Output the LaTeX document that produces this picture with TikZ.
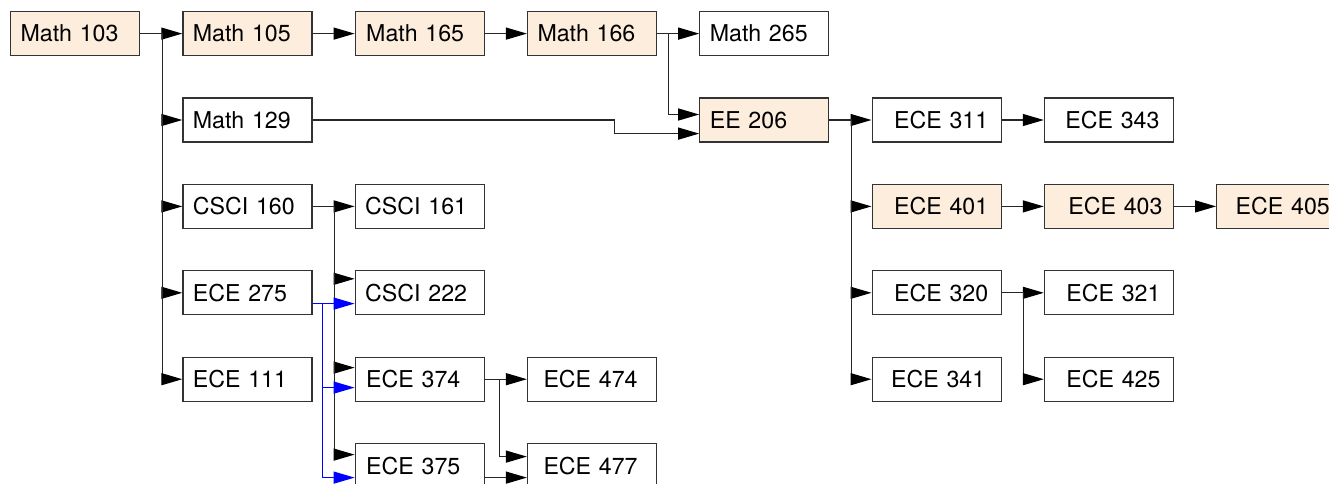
\documentclass[tikz,border=0pt]{standalone}
\usepackage{fontspec}
\setmainfont{TeX Gyre Heros}
\usetikzlibrary{arrows.meta}
\definecolor{core}{RGB}{253,237,221}
\tikzset{
  course/.style={draw=black!80, line width=0.6pt, anchor=north west, inner xsep=0pt, inner ysep=0pt,
    text width=64.5pt, minimum height=22pt, align=left, font=\fontsize{11.6}{13}\selectfont,
    execute at begin node={\hspace*{#1}}},
  course/.default=5pt,
  req/.style={draw=black!85, line width=0.6pt, -{Triangle[length=10.5pt,width=6pt,color=black]}},
  reqblue/.style={draw=blue, line width=0.6pt, -{Triangle[length=10.5pt,width=6pt,color=blue]}},
}
\begin{document}
\begin{tikzpicture}[x=0.5pt, y=-0.5pt]
 \useasboundingbox (0,0) rectangle (1329,483);
 \clip (0,0) rectangle (1329,483);

 \def\dx{172.3}
 \def\dy{86.4}

 %core sequence
 \foreach \c/\r/\name/\txt/\pad in {0/0/m103/Math 103/5pt, 1/0/m105/Math 105/5pt, 2/0/m165/Math 165/5.5pt,
     3/0/m166/Math 166/5pt, 4/1/ee206/EE 206/5pt, 5/2/e401/ECE 401/11pt, 6/2/e403/ECE 403/12pt, 7/2/e405/ECE 405/9.5pt} {
        \node[course=\pad, fill=core] (\name) at ({\c*\dx+10},{\r*\dy+11}) {\txt};
 }

 %other courses
 \foreach \c/\r/\name/\txt/\pad in {4/0/m265/Math 265/5pt, 1/1/m129/Math 129/5pt, 1/2/c160/CSCI 160/5pt,
     1/3/e275/ECE 275/5pt, 1/4/e111/ECE 111/5pt, 2/2/c161/CSCI 161/5pt, 2/3/c222/CSCI 222/5pt,
     2/4/e374/ECE 374/5.5pt, 2/5/e375/ECE 375/5.5pt, 3/4/e474/ECE 474/8pt, 3/5/e477/ECE 477/8pt,
     5/1/e311/ECE 311/11pt, 6/1/e343/ECE 343/10.5pt, 5/3/e320/ECE 320/11pt, 5/4/e341/ECE 341/9.5pt,
     6/3/e321/ECE 321/11pt, 6/4/e425/ECE 425/11pt} {
        \node[course=\pad, fill=white] (\name) at ({\c*\dx+10},{\r*\dy+11}) {\txt};
 }

 %math
 \draw[req] (m103.east) -- (m105.west);
 \foreach \n in {m129, c160, e275, e111}
        \draw[req] (m103.east) -- ++(22,0) |- (\n.west);
 \draw[req] (m105.east) -- (m165.west);
 \draw[req] (m165.east) -- (m166.west);
 \draw[req] (m166.east) -- (m265.west);
 \draw[req] (m166.east) -- ++(11,0) |- ([yshift=2.75pt]ee206.west);
 \draw[req] (m129.east) -- ++(302,0) |- ([yshift=-6.8pt]ee206.west);

 %ee 206
 \foreach \n in {e311, e401, e320, e341}
        \draw[req] (ee206.east) -- ++(22,0) |- (\n.west);
 \draw[req] (e311.east) -- (e343.west);
 \draw[req] (e401.east) -- (e403.west);
 \draw[req] (e403.east) -- (e405.west);
 \draw[req] (e320.east) -- (e321.west);
 \draw[req] (e320.east) -- ++(22,0) |- (e425.west);

 %csci 160
 \draw[req] (c160.east) -- (c161.west);
 \foreach \n/\s in {c222/7pt, e374/5.8pt, e375/5.5pt}
        \draw[req] (c160.east) -- ++(22,0) |- ([yshift=\s]\n.west);

 %ece 275
 \foreach \n/\s in {c222/-5.4pt, e374/-4.2pt, e375/-6pt}
        \draw[reqblue] ([yshift=-5.4pt]e275.east) -- ++(10,0) |- ([yshift=\s]\n.west);

 %ece 374, 375
 \draw[req] (e374.east) -- (e474.west);
 \draw[req] (e374.east) -- ++(15,0) |- ([yshift=4.5pt]e477.west);
 \draw[req] ([yshift=-6pt]e375.east) -- ([yshift=-6pt]e477.west);

\end{tikzpicture}
\end{document}
